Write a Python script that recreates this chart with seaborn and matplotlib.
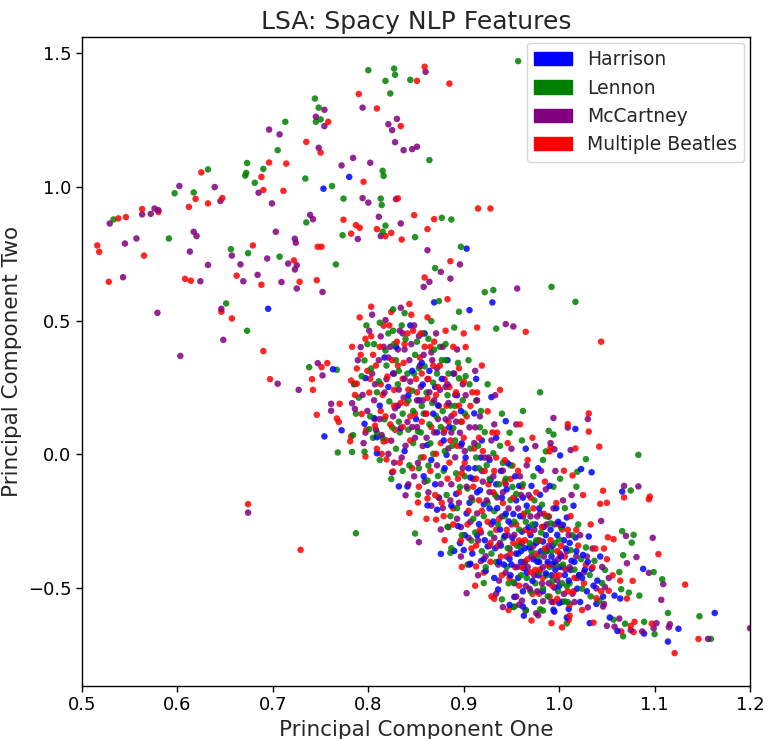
import matplotlib
matplotlib.use("Agg")
import matplotlib.pyplot as plt
import matplotlib.patches as mpatches
import pandas as pd
import seaborn as sns

sns.set_style("ticks", {"axes.edgecolor": "black", "xtick.color": "black", "ytick.color": "black"})

# (pc1, pc2), per songwriter
harrison = [
    (0.780, 1.037), (0.753, 0.993), (0.695, 0.544), (0.903, 0.769), (0.930, 0.568), (0.869, 0.568),
    (0.906, 0.539), (1.066, -0.139), (1.088, -0.428), (1.064, -0.539), (1.163, -0.593), (1.125, -0.652),
    (1.114, -0.700), (1.089, -0.670), (1.061, -0.660), (1.053, -0.610), (1.058, -0.528), (1.046, -0.532),
    (1.032, -0.631), (1.039, -0.559), (1.008, -0.610), (0.994, -0.581), (0.995, -0.588), (1.010, -0.578),
    (1.034, -0.067), (1.023, -0.055), (1.001, -0.004), (0.962, -0.569), (0.948, -0.563), (0.963, -0.603),
    (0.876, -0.372), (0.832, -0.120), (0.841, -0.120), (0.862, -0.191), (0.872, -0.207), (0.754, 0.067),
    (0.809, 0.004), (0.772, 0.090), (0.797, 0.285), (0.763, 0.318), (0.796, 0.114), (0.806, 0.135),
    (0.809, 0.064), (0.825, -0.067), (1.017, 0.095), (0.890, -0.361), (0.900, -0.358), (0.907, -0.409),
    (1.000, -0.556),
    (0.880, -0.052), (0.885, 0.102), (0.892, -0.148), (0.898, 0.041), (0.903, -0.221), (0.907, -0.087),
    (0.911, 0.153), (0.914, -0.302), (0.918, -0.012), (0.921, -0.187), (0.925, -0.344), (0.928, -0.096),
    (0.931, -0.251), (0.934, 0.062), (0.937, -0.401), (0.940, -0.162), (0.943, -0.305), (0.946, -0.033),
    (0.949, -0.452), (0.952, -0.223), (0.955, -0.371), (0.958, -0.118), (0.961, -0.289), (0.963, -0.426),
    (0.966, -0.192), (0.969, -0.348), (0.972, -0.473), (0.975, -0.262), (0.977, -0.401), (0.980, -0.151),
    (0.983, -0.326), (0.986, -0.445), (0.989, -0.233), (0.992, -0.382), (0.995, -0.498), (0.998, -0.301),
    (1.001, -0.421), (1.004, -0.264), (1.007, -0.352), (1.010, -0.472), (1.013, -0.398), (1.017, -0.311),
    (1.021, -0.451), (1.025, -0.376), (1.029, -0.512), (1.034, -0.428), (1.040, -0.472), (0.850, 0.132),
    (0.842, 0.221), (0.862, 0.035), (0.870, -0.112), (0.826, 0.302), (0.834, 0.098), (0.857, 0.261),
    (0.873, 0.183), (0.866, -0.021), (0.894, -0.268), (0.909, -0.371), (0.923, -0.436), (0.936, -0.505),
    (0.953, -0.533), (0.965, 0.021), (0.978, -0.052), (0.990, -0.118), (1.015, -0.192), (0.944, 0.124),
    (0.929, 0.214), (0.913, 0.282), (0.883, 0.352), (0.902, -0.012), (0.917, -0.134), (0.947, -0.251),
    (0.960, -0.402), (0.971, -0.118), (0.984, -0.271), (0.997, -0.201), (1.003, -0.551), (1.022, -0.552),
    (0.939, -0.062), (0.955, -0.172), (0.976, -0.331), (0.992, -0.452), (1.008, -0.236), (1.031, -0.307),
    (1.043, -0.382),
    (0.901, -0.302), (0.906, -0.181), (0.912, -0.052), (0.916, -0.261), (0.922, -0.321), (0.927, -0.021),
    (0.933, -0.351), (0.938, -0.281), (0.942, -0.412), (0.945, -0.131), (0.951, -0.312), (0.957, -0.462),
    (0.959, -0.231), (0.964, -0.351), (0.968, -0.272), (0.973, -0.392), (0.978, -0.452), (0.981, -0.362),
    (0.986, -0.302), (0.988, -0.402), (0.993, -0.342), (0.996, -0.431), (1.002, -0.381), (1.006, -0.451),
    (1.011, -0.331), (1.016, -0.402), (1.019, -0.502), (1.027, -0.431), (1.036, -0.491), (0.887, -0.192),
    (0.879, 0.052), (0.868, 0.152), (0.858, -0.082), (0.893, 0.221), (0.919, 0.052), (0.935, -0.201),
    (0.948, -0.391), (0.962, -0.512), (0.979, -0.202), (0.999, -0.252),
    (0.914, -0.142), (0.921, -0.392), (0.927, -0.202), (0.932, -0.462), (0.939, -0.341), (0.944, -0.222),
    (0.950, -0.412), (0.954, -0.082), (0.960, -0.362), (0.966, -0.442), (0.970, -0.302), (0.974, -0.552),
    (0.979, -0.402), (0.983, -0.512), (0.987, -0.362), (0.991, -0.282), (0.995, -0.402), (1.000, -0.492),
    (1.005, -0.321), (1.012, -0.432), (1.018, -0.362), (1.024, -0.462), (1.030, -0.402), (0.896, -0.332),
    (0.905, -0.052), (0.897, 0.162), (0.870, 0.252), (0.856, 0.342), (0.934, -0.112), (0.962, -0.162),
    (0.812, 0.182), (0.821, 0.252), (0.829, 0.402), (0.838, 0.012), (0.846, 0.312), (0.853, 0.202),
    (0.859, 0.452), (0.864, 0.312), (0.872, 0.082), (0.877, 0.282), (0.882, -0.002), (0.889, 0.302),
    (0.817, 0.362), (0.844, 0.482), (0.831, 0.182),
]

lennon = [
    (0.800, 1.436), (0.827, 1.442), (0.818, 1.396), (0.828, 1.419), (0.844, 1.400), (0.823, 1.349),
    (0.744, 1.330), (0.748, 1.296), (0.745, 1.243), (0.750, 1.252), (0.713, 1.243), (0.705, 1.137),
    (0.673, 1.089), (0.815, 1.060), (0.816, 1.041), (0.762, 1.003), (0.734, 1.031), (0.632, 1.065),
    (0.672, 1.052), (0.671, 1.042), (0.690, 1.067), (0.681, 1.015), (0.597, 0.976), (0.617, 0.979),
    (0.533, 0.878), (0.591, 0.807), (0.656, 0.767), (0.674, 0.752), (0.707, 0.739), (0.735, 0.867),
    (0.651, 0.564), (0.673, 0.462), (0.766, 0.710), (0.773, 0.819), (0.774, 0.956), (0.813, 0.956),
    (0.814, 0.932), (0.815, 0.832), (0.818, 0.855), (0.849, 0.812), (0.957, 1.470), (0.864, 1.100),
    (0.877, 0.884), (0.887, 0.878), (0.897, 0.776), (0.870, 0.696), (0.922, 0.606), (0.931, 0.614),
    (0.992, 0.626), (1.017, 0.570), (0.874, 0.573), (0.895, 0.533), (0.934, 0.470), (0.890, 0.474),
    (1.083, -0.002), (1.075, -0.135), (1.066, -0.287), (1.078, -0.301), (1.076, -0.330), (1.067, -0.377),
    (1.099, -0.440), (1.063, -0.440), (1.108, -0.467), (1.065, -0.504), (1.084, -0.528), (1.114, -0.593),
    (1.147, -0.605), (1.159, -0.690), (1.100, -0.672), (1.089, -0.626), (1.067, -0.680), (1.069, -0.633),
    (1.057, -0.618), (1.073, -0.517), (1.008, -0.632), (1.019, -0.065), (1.028, -0.018), (0.953, -0.569),
    (0.787, -0.295), (0.849, -0.296), (0.852, -0.151), (0.768, 0.007), (0.783, 0.009), (0.796, 0.010),
    (0.738, 0.326), (0.767, 0.316), (0.786, 0.264), (0.801, 0.094), (0.809, 0.081), (0.824, -0.092),
    (0.836, -0.062), (0.980, 0.232), (0.989, 0.088), (0.994, 0.074), (0.986, 0.011), (0.886, -0.368),
    (0.952, -0.571), (0.980, -0.579), (0.983, -0.584), (1.006, -0.550),
    (0.790, 0.212), (0.796, 0.351), (0.802, 0.142), (0.806, 0.412), (0.811, 0.273), (0.815, 0.061),
    (0.818, 0.388), (0.822, 0.198), (0.826, 0.462), (0.829, 0.021), (0.832, 0.312), (0.836, 0.152),
    (0.839, 0.431), (0.843, -0.041), (0.846, 0.238), (0.849, 0.372), (0.852, 0.086), (0.856, 0.181),
    (0.859, 0.329), (0.862, -0.098), (0.865, 0.041), (0.868, 0.268), (0.871, 0.143), (0.874, -0.162),
    (0.877, 0.352), (0.880, 0.012), (0.883, 0.221), (0.886, -0.231), (0.889, 0.098), (0.892, -0.071),
    (0.895, 0.284), (0.898, -0.302), (0.901, 0.153), (0.904, -0.128), (0.907, 0.022), (0.910, -0.241),
    (0.913, 0.201), (0.916, -0.052), (0.919, -0.362), (0.922, 0.083), (0.925, -0.181), (0.928, -0.296),
    (0.931, 0.004), (0.934, -0.402), (0.937, -0.112), (0.940, 0.152), (0.943, -0.231), (0.946, -0.351),
    (0.949, -0.041), (0.952, -0.478), (0.955, -0.148), (0.958, -0.281), (0.961, 0.052), (0.964, -0.402),
    (0.967, -0.213), (0.970, -0.512), (0.973, -0.082), (0.976, -0.321), (0.979, -0.441), (0.982, -0.188),
    (0.985, -0.362), (0.988, -0.531), (0.991, -0.258), (0.994, -0.121), (0.997, -0.412), (1.000, -0.318),
    (1.003, -0.482), (1.006, -0.201), (1.009, -0.552), (1.012, -0.358), (1.016, -0.431), (1.020, -0.262),
    (1.024, -0.502), (1.028, -0.348), (1.032, -0.451), (1.037, -0.398), (1.042, -0.548), (1.048, -0.432),
    (0.784, 0.072), (0.798, 0.482), (0.812, -0.021), (0.838, 0.528), (0.857, 0.452), (0.866, 0.498),
    (0.881, 0.412), (0.905, 0.352), (0.925, 0.262), (0.948, 0.081), (0.962, 0.162), (0.983, -0.021),
    (1.001, -0.091), (1.018, -0.121), (0.887, -0.351), (0.904, -0.412), (0.921, -0.481), (0.940, -0.542),
    (0.965, -0.582), (0.891, 0.181), (0.917, 0.101), (0.944, -0.091), (0.959, -0.341), (0.972, -0.262),
    (0.993, -0.472), (0.853, -0.052), (0.827, 0.412), (0.842, 0.092),
    (0.803, 0.321), (0.809, 0.232), (0.817, 0.131), (0.821, 0.452), (0.829, 0.352), (0.833, 0.082),
    (0.841, 0.302), (0.847, 0.162), (0.851, 0.421), (0.855, -0.012), (0.861, 0.231), (0.864, 0.112),
    (0.869, 0.391), (0.873, -0.081), (0.878, 0.162), (0.882, -0.152), (0.884, 0.302), (0.888, 0.032),
    (0.893, -0.201), (0.897, 0.122), (0.901, -0.082), (0.906, 0.262), (0.909, -0.172), (0.912, -0.292),
    (0.915, 0.032), (0.921, -0.231), (0.924, -0.041), (0.929, -0.371), (0.933, -0.152), (0.936, -0.261),
    (0.941, -0.032), (0.945, -0.421), (0.949, -0.171), (0.953, -0.252), (0.957, -0.372), (0.962, -0.112),
    (0.966, -0.462), (0.969, -0.332), (0.974, -0.172), (0.978, -0.381), (0.983, -0.501), (0.986, -0.231),
    (0.990, -0.421), (0.996, -0.332), (1.002, -0.272), (1.008, -0.492), (1.014, -0.302), (1.023, -0.392),
    (1.033, -0.531), (1.045, -0.481),
    (0.883, -0.271), (0.891, 0.052), (0.896, -0.122), (0.902, 0.292), (0.908, -0.322), (0.913, -0.012),
    (0.918, 0.162), (0.923, -0.422), (0.927, -0.092), (0.932, -0.212), (0.938, 0.032), (0.942, -0.312),
    (0.947, -0.482), (0.951, -0.122), (0.956, -0.342), (0.960, -0.452), (0.965, -0.252), (0.971, -0.362),
    (0.975, -0.482), (0.981, -0.292), (0.987, -0.452), (0.992, -0.362), (0.999, -0.512), (1.004, -0.412),
    (1.011, -0.482), (1.021, -0.452), (0.848, 0.302), (0.832, 0.122), (0.868, 0.002), (0.875, 0.402),
    (0.787, 0.152), (0.793, 0.292), (0.799, 0.412), (0.805, 0.062), (0.812, 0.492), (0.819, 0.332),
    (0.825, 0.101), (0.831, 0.262), (0.835, 0.482), (0.842, 0.202), (0.847, 0.042), (0.853, 0.322),
    (0.858, 0.152), (0.863, 0.432), (0.867, 0.192), (0.872, 0.302), (0.876, 0.102), (0.881, 0.352),
    (0.886, 0.182), (0.894, 0.342), (0.899, 0.202), (0.855, 0.082), (0.863, -0.042), (0.879, -0.062),
    (0.826, 0.542),
]

mccartney = [
    (0.794, 1.296), (0.830, 1.254), (0.821, 1.234), (0.825, 1.212), (0.828, 1.167), (0.837, 1.137),
    (0.846, 1.141), (0.851, 1.150), (0.754, 1.288), (0.745, 1.262), (0.754, 1.227), (0.696, 1.214),
    (0.707, 1.196), (0.748, 1.146), (0.772, 1.080), (0.784, 1.108), (0.802, 1.090), (0.685, 0.978),
    (0.699, 0.938), (0.602, 1.003), (0.639, 0.999), (0.645, 0.947), (0.576, 0.919), (0.580, 0.913),
    (0.563, 0.897), (0.572, 0.899), (0.529, 0.863), (0.545, 0.788), (0.557, 0.807), (0.543, 0.662),
    (0.617, 0.832), (0.620, 0.816), (0.613, 0.758), (0.579, 0.529), (0.603, 0.368), (0.624, 0.647),
    (0.632, 0.708), (0.657, 0.743), (0.669, 0.647), (0.666, 0.710), (0.684, 0.671), (0.694, 0.732),
    (0.703, 0.832), (0.739, 0.895), (0.742, 0.879), (0.723, 0.806), (0.724, 0.791), (0.725, 0.707),
    (0.723, 0.691), (0.716, 0.713), (0.725, 0.620), (0.709, 0.644), (0.646, 0.544), (0.648, 0.428),
    (0.752, 0.607), (0.789, 0.805), (0.794, 0.958), (0.800, 0.941), (0.829, 0.954), (0.811, 0.888),
    (0.813, 0.816), (0.834, 0.863), (0.860, 1.430), (0.862, 0.763), (0.896, 0.710), (0.876, 0.682),
    (0.858, 0.626), (0.864, 0.645), (0.886, 0.657), (0.956, 0.620), (0.944, 0.487), (0.952, 0.478),
    (1.068, -0.118), (1.083, -0.120), (1.044, -0.249), (1.070, -0.305), (1.098, -0.312), (1.081, -0.384),
    (1.071, -0.407), (1.094, -0.443), (1.109, -0.485), (1.107, -0.544), (1.200, -0.650), (1.156, -0.690),
    (1.116, -0.635), (1.115, -0.646), (1.099, -0.650), (1.102, -0.631), (1.087, -0.662), (1.075, -0.657),
    (1.058, -0.644), (1.063, -0.614), (1.050, -0.641), (1.048, -0.496), (1.047, -0.559), (1.046, -0.569),
    (0.941, -0.571), (0.961, -0.547), (0.674, -0.218), (0.853, -0.328), (0.839, -0.153), (0.705, 0.264),
    (0.727, 0.241), (0.761, 0.189), (0.761, 0.163), (0.752, 0.295), (0.747, 0.341), (0.783, 0.191),
    (0.786, 0.170), (0.797, 0.081), (0.994, 0.136), (1.030, 0.132), (1.009, 0.100), (0.991, 0.042),
    (0.995, 0.019), (1.012, 0.016), (0.918, -0.399), (0.903, -0.519), (0.983, -0.549), (0.965, -0.584),
    (0.976, -0.594),
    (0.785, 0.262), (0.792, 0.401), (0.799, 0.162), (0.804, 0.302), (0.808, 0.092), (0.813, 0.441),
    (0.817, 0.231), (0.821, 0.362), (0.824, 0.051), (0.828, 0.172), (0.831, 0.392), (0.835, -0.012),
    (0.838, 0.283), (0.841, 0.121), (0.845, 0.412), (0.848, -0.082), (0.851, 0.202), (0.854, 0.331),
    (0.857, 0.031), (0.860, 0.152), (0.863, -0.142), (0.866, 0.381), (0.869, 0.082), (0.872, -0.041),
    (0.875, 0.241), (0.878, -0.201), (0.881, 0.131), (0.884, 0.022), (0.887, -0.112), (0.890, 0.302),
    (0.893, -0.241), (0.896, 0.081), (0.899, -0.051), (0.902, 0.221), (0.905, -0.312), (0.908, -0.162),
    (0.911, 0.042), (0.914, -0.221), (0.917, 0.142), (0.920, -0.102), (0.923, -0.381), (0.926, -0.012),
    (0.929, -0.262), (0.932, 0.112), (0.935, -0.161), (0.938, -0.331), (0.941, -0.061), (0.944, -0.442),
    (0.947, -0.202), (0.950, 0.021), (0.953, -0.301), (0.956, -0.421), (0.959, -0.082), (0.962, -0.232),
    (0.965, -0.492), (0.968, -0.152), (0.971, -0.381), (0.974, -0.282), (0.977, -0.512), (0.980, -0.221),
    (0.983, -0.422), (0.986, -0.131), (0.989, -0.342), (0.992, -0.551), (0.995, -0.262), (0.998, -0.471),
    (1.001, -0.372), (1.004, -0.172), (1.007, -0.431), (1.010, -0.302), (1.014, -0.521), (1.018, -0.381),
    (1.022, -0.302), (1.026, -0.441), (1.030, -0.572), (1.035, -0.352), (1.039, -0.501), (1.045, -0.421),
    (1.052, -0.462), (0.795, 0.042), (0.818, 0.502), (0.834, 0.548), (0.848, 0.482), (0.871, 0.452),
    (0.893, 0.392), (0.912, 0.312), (0.933, 0.221), (0.955, 0.112), (0.975, 0.031), (0.996, -0.062),
    (1.013, -0.152), (0.876, -0.281), (0.897, -0.382), (0.915, -0.452), (0.934, -0.521), (0.958, -0.562),
    (0.978, -0.602), (0.862, 0.281), (0.884, 0.192), (0.906, 0.101), (0.927, -0.141), (0.946, -0.302),
    (0.967, -0.421), (0.981, -0.062), (0.842, -0.112), (0.827, -0.031),
    (0.806, 0.202), (0.811, 0.352), (0.814, 0.072), (0.819, 0.281), (0.823, 0.402), (0.826, 0.142),
    (0.832, 0.242), (0.836, 0.452), (0.839, 0.032), (0.843, 0.352), (0.846, 0.102), (0.852, -0.032),
    (0.855, 0.252), (0.858, 0.372), (0.861, 0.062), (0.866, -0.192), (0.869, 0.202), (0.872, 0.322),
    (0.876, -0.111), (0.879, 0.081), (0.884, -0.272), (0.887, 0.142), (0.891, -0.011), (0.895, -0.181),
    (0.899, 0.262), (0.903, -0.121), (0.907, -0.252), (0.912, 0.101), (0.915, -0.322), (0.919, -0.062),
    (0.924, -0.172), (0.929, 0.052), (0.932, -0.312), (0.936, -0.412), (0.940, -0.232), (0.944, -0.112),
    (0.948, -0.352), (0.953, -0.482), (0.957, -0.202), (0.961, -0.331), (0.966, -0.041), (0.970, -0.232),
    (0.974, -0.452), (0.979, -0.322), (0.984, -0.382), (0.989, -0.482), (0.994, -0.202), (0.999, -0.392),
    (1.005, -0.522), (1.011, -0.422), (1.019, -0.462), (1.029, -0.382),
    (0.881, 0.252), (0.886, -0.172), (0.892, 0.122), (0.897, -0.272), (0.901, 0.012), (0.906, -0.412),
    (0.910, -0.092), (0.914, 0.202), (0.918, -0.292), (0.922, -0.012), (0.927, -0.342), (0.931, -0.082),
    (0.937, -0.472), (0.941, -0.142), (0.945, -0.382), (0.950, -0.262), (0.955, -0.532), (0.960, -0.152),
    (0.964, -0.402), (0.969, -0.502), (0.973, -0.342), (0.977, -0.232), (0.982, -0.482), (0.987, -0.262),
    (0.993, -0.412), (1.000, -0.262), (1.008, -0.362), (1.016, -0.552), (0.851, 0.102), (0.838, 0.392),
    (0.789, 0.352), (0.794, 0.222), (0.801, 0.462), (0.807, 0.262), (0.812, 0.132), (0.816, 0.402),
    (0.821, 0.002), (0.827, 0.302), (0.833, 0.462), (0.837, 0.212), (0.844, 0.272), (0.849, 0.062),
    (0.853, 0.442), (0.857, 0.202), (0.864, 0.232), (0.867, 0.352), (0.873, 0.132), (0.878, 0.402),
    (0.883, 0.262), (0.887, 0.082), (0.891, 0.222), (0.897, 0.032), (0.804, 0.522), (0.859, -0.102),
    (0.874, -0.162),
]

multiple = [
    (0.851, 1.396), (0.790, 1.347), (0.809, 1.293), (0.834, 1.227), (0.758, 1.243), (0.735, 1.168),
    (0.750, 1.128), (0.696, 1.091), (0.714, 1.087), (0.795, 1.019), (0.625, 1.054), (0.688, 1.037),
    (0.690, 0.988), (0.711, 0.985), (0.619, 0.955), (0.632, 0.938), (0.612, 0.925), (0.647, 0.958),
    (0.580, 0.906), (0.563, 0.917), (0.538, 0.882), (0.546, 0.887), (0.516, 0.781), (0.518, 0.757),
    (0.565, 0.743), (0.528, 0.645), (0.608, 0.656), (0.614, 0.649), (0.679, 0.781), (0.662, 0.668),
    (0.688, 0.634), (0.722, 0.725), (0.728, 0.645), (0.646, 0.533), (0.657, 0.508), (0.690, 0.386),
    (0.747, 0.776), (0.751, 0.776), (0.746, 0.651), (0.774, 0.877), (0.782, 0.825), (0.787, 0.857),
    (0.791, 0.847), (0.831, 0.957), (0.809, 0.842), (0.818, 0.816), (0.824, 0.828), (0.835, 0.803),
    (0.848, 0.894), (0.859, 1.449), (0.885, 1.386), (0.915, 0.919), (0.928, 0.919), (0.869, 0.879),
    (0.862, 0.842), (0.886, 0.722), (0.859, 0.661), (0.883, 0.580), (0.965, 0.458), (0.914, 0.474),
    (0.900, 0.452), (1.068, -0.161), (1.095, -0.158), (1.094, -0.168), (1.046, -0.136), (1.043, -0.185),
    (1.050, -0.181), (1.104, -0.373), (1.057, -0.317), (1.051, -0.310), (1.132, -0.487), (1.077, -0.473),
    (1.064, -0.472), (1.071, -0.539), (1.146, -0.690), (1.121, -0.743), (1.097, -0.633), (1.078, -0.664),
    (1.079, -0.626), (1.075, -0.641), (1.065, -0.662), (1.052, -0.510), (1.039, -0.538), (1.036, -0.629),
    (1.003, -0.647), (1.011, -0.603), (1.014, -0.079), (0.674, -0.186), (0.729, -0.357), (0.843, -0.219),
    (0.852, -0.180), (0.862, -0.165), (0.871, -0.244), (0.797, -0.008), (0.814, 0.002), (0.819, -0.019),
    (0.697, 0.281), (0.741, 0.281), (0.742, 0.241), (0.746, 0.148), (0.770, 0.189), (0.767, 0.134),
    (0.769, 0.121), (0.782, 0.067), (0.781, 0.049), (0.751, 0.326), (0.757, 0.341), (0.782, 0.276),
    (0.788, 0.264), (0.799, 0.312), (0.807, 0.107), (0.816, 0.048), (0.826, -0.064), (1.044, 0.421),
    (1.031, 0.153), (1.009, 0.113), (1.031, 0.085), (0.991, 0.026), (1.042, 0.029), (1.017, 0.022),
    (0.913, -0.419), (0.932, -0.540), (1.010, -0.619), (0.998, -0.540),
    (0.788, 0.321), (0.793, 0.151), (0.797, 0.432), (0.801, 0.231), (0.805, 0.372), (0.809, 0.021),
    (0.813, 0.162), (0.816, 0.481), (0.820, 0.291), (0.823, 0.112), (0.827, 0.241), (0.830, 0.421),
    (0.833, -0.031), (0.837, 0.342), (0.840, 0.191), (0.844, 0.052), (0.847, 0.462), (0.850, 0.282),
    (0.853, -0.121), (0.856, 0.122), (0.859, 0.402), (0.862, 0.211), (0.865, -0.062), (0.868, 0.331),
    (0.871, 0.002), (0.874, 0.181), (0.877, -0.181), (0.880, 0.281), (0.883, -0.091), (0.886, 0.052),
    (0.889, -0.262), (0.892, 0.232), (0.895, -0.142), (0.898, 0.122), (0.901, -0.031), (0.904, -0.262),
    (0.907, 0.181), (0.910, -0.121), (0.913, -0.341), (0.916, 0.062), (0.919, -0.211), (0.922, -0.062),
    (0.925, 0.161), (0.928, -0.331), (0.931, -0.142), (0.934, -0.012), (0.937, -0.241), (0.940, -0.452),
    (0.943, -0.101), (0.946, 0.042), (0.949, -0.371), (0.952, -0.162), (0.955, -0.262), (0.958, -0.491),
    (0.961, -0.121), (0.964, -0.321), (0.967, -0.021), (0.970, -0.441), (0.973, -0.202), (0.976, -0.371),
    (0.979, -0.521), (0.982, -0.271), (0.985, -0.102), (0.988, -0.412), (0.991, -0.321), (0.994, -0.552),
    (0.997, -0.182), (1.000, -0.452), (1.003, -0.281), (1.006, -0.382), (1.009, -0.512), (1.012, -0.231),
    (1.016, -0.462), (1.020, -0.341), (1.024, -0.582), (1.028, -0.412), (1.033, -0.262), (1.038, -0.352),
    (1.044, -0.512), (1.050, -0.392), (1.056, -0.452), (0.783, 0.402), (0.791, 0.512), (0.803, 0.552),
    (0.824, 0.532), (0.845, 0.522), (0.862, 0.512), (0.881, 0.462), (0.902, 0.401), (0.919, 0.332),
    (0.938, 0.241), (0.959, 0.112), (0.972, 0.062), (0.990, 0.011), (1.005, -0.061), (1.025, -0.152),
    (0.861, -0.241), (0.880, -0.321), (0.898, -0.421), (0.912, -0.491), (0.929, -0.531), (0.947, -0.582),
    (0.971, -0.621), (0.992, -0.631), (0.869, 0.421), (0.895, 0.322), (0.914, 0.231), (0.935, 0.081),
    (0.951, -0.042), (0.969, -0.291), (0.983, -0.461),
    (0.802, 0.282), (0.807, 0.132), (0.812, 0.402), (0.815, 0.222), (0.819, 0.052), (0.825, 0.352),
    (0.828, 0.092), (0.834, 0.192), (0.838, 0.412), (0.842, 0.242), (0.846, -0.052), (0.849, 0.152),
    (0.854, 0.362), (0.858, -0.011), (0.863, 0.282), (0.866, 0.102), (0.870, -0.152), (0.873, 0.252),
    (0.876, 0.042), (0.879, -0.231), (0.882, 0.182), (0.885, -0.031), (0.890, 0.152), (0.894, -0.091),
    (0.897, -0.322), (0.900, 0.062), (0.905, -0.211), (0.909, 0.232), (0.913, -0.091), (0.917, -0.282),
    (0.920, 0.012), (0.925, -0.252), (0.928, -0.402), (0.932, -0.062), (0.936, -0.342), (0.941, -0.182),
    (0.945, -0.282), (0.949, -0.092), (0.954, -0.422), (0.958, -0.322), (0.963, -0.222), (0.967, -0.392),
    (0.972, -0.522), (0.976, -0.142), (0.980, -0.431), (0.985, -0.352), (0.989, -0.232), (0.993, -0.492),
    (0.998, -0.362), (1.004, -0.422), (1.011, -0.562), (1.018, -0.282), (1.026, -0.482), (1.035, -0.422),
    (1.047, -0.352),
    (0.884, 0.122), (0.889, -0.202), (0.893, 0.032), (0.898, -0.071), (0.903, 0.142), (0.908, -0.352),
    (0.911, 0.022), (0.916, -0.172), (0.921, -0.442), (0.926, -0.112), (0.930, 0.082), (0.934, -0.282),
    (0.939, -0.382), (0.943, -0.022), (0.948, -0.462), (0.952, -0.332), (0.957, -0.062), (0.961, -0.422),
    (0.965, -0.282), (0.970, -0.162), (0.975, -0.432), (0.979, -0.322), (0.984, -0.222), (0.990, -0.532),
    (0.996, -0.452), (1.002, -0.342), (1.009, -0.282), (1.015, -0.512), (0.855, 0.452), (0.836, 0.282),
    (0.786, 0.222), (0.792, 0.372), (0.798, 0.092), (0.803, 0.442), (0.808, 0.332), (0.813, 0.262),
    (0.818, 0.142), (0.822, 0.482), (0.827, 0.182), (0.831, 0.332), (0.836, 0.102), (0.841, 0.452),
    (0.844, 0.142), (0.851, 0.232), (0.856, 0.302), (0.861, 0.152), (0.865, 0.402), (0.871, 0.222),
    (0.875, 0.332), (0.880, 0.092), (0.885, 0.252), (0.889, 0.402), (0.895, 0.182), (0.900, 0.272),
    (0.843, 0.562),
]

labels = ["Harrison", "Lennon", "McCartney", "Multiple Beatles"]
colors = ["blue", "green", "purple", "red"]

frames = []
for name, pts in zip(labels, [harrison, lennon, mccartney, multiple]):
    d = pd.DataFrame(pts, columns=["pc1", "pc2"])
    d["beatle"] = name
    frames.append(d)
df = pd.concat(frames, ignore_index=True)
# mix the colours in drawing order like the original
df = df.sort_values("pc2", kind="mergesort").reset_index(drop=True)

fig = plt.figure(figsize=(7.71, 7.39), dpi=100)
ax = fig.add_axes([0.1064, 0.0717, 0.8664, 0.8782])

sns.scatterplot(data=df, x="pc1", y="pc2", hue="beatle", hue_order=labels,
                palette=dict(zip(labels, colors)), s=22, linewidth=0, alpha=0.85,
                legend=False, ax=ax)

ax.set_xlim(0.5, 1.2)
ax.set_ylim(-0.866, 1.56)
ax.set_yticks([-0.5, 0.0, 0.5, 1.0, 1.5])
ax.set_title("LSA: Spacy NLP Features", fontsize=18)
ax.set_xlabel("Principal Component One", fontsize=15.5)
ax.set_ylabel("Principal Component Two", fontsize=15.5)
ax.tick_params(labelsize=13, length=4, width=1)
for sp in ax.spines.values():
    sp.set_linewidth(1.0)

handles = [mpatches.Patch(color=c, label=l) for l, c in zip(labels, colors)]
ax.legend(handles=handles, loc="upper right", fontsize=13.5, borderaxespad=0.3)

fig.savefig("out.png", dpi=100)
